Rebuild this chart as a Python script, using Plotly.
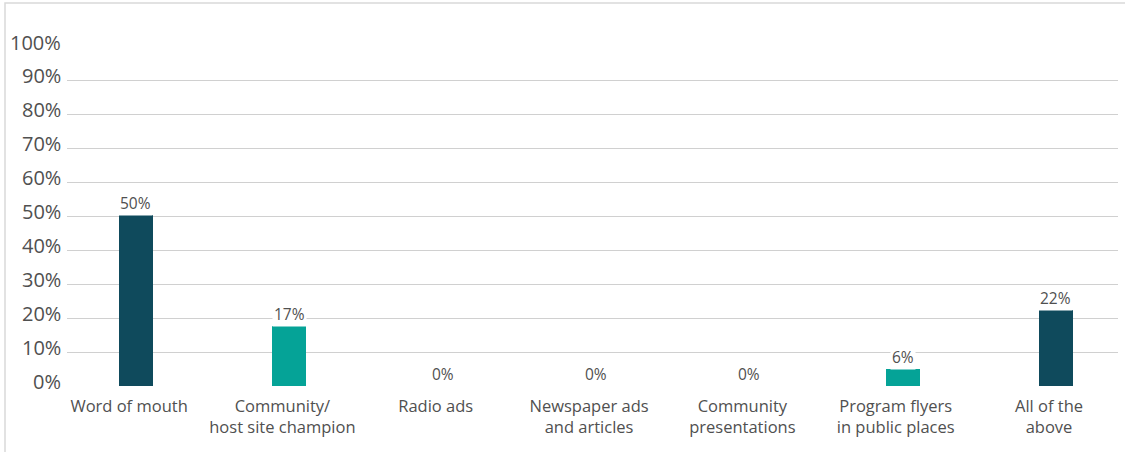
import plotly.graph_objects as go

categories = ["Word of mouth", "Community/<br>host site champion", "Radio ads",
              "Newspaper ads<br>and articles", "Community<br>presentations",
              "Program flyers<br>in public places", "All of the<br>above"]
values = [50.4, 17.8, 0, 0, 0, 5.1, 22.4]
labels = ["50%", "17%", "0%", "0%", "0%", "6%", "22%"]
colors = ["#0f4a5c", "#05a397", "#05a397", "#05a397", "#05a397", "#05a397", "#0f4a5c"]
ytick_vals = [0, 10, 20, 30, 40, 50, 60, 70, 80, 90, 100]
ytick_text = [f"{v}%" for v in ytick_vals]

TXT = "#505050"
xs = list(range(len(categories)))
LABEL_OFFSET = -0.045

fig = go.Figure()
fig.add_trace(go.Bar(x=xs, y=values, marker_color=colors, width=0.222,
                     marker_line_width=0, hoverinfo="skip"))

for x, v, t in zip(xs, values, labels):
    fig.add_annotation(x=x, y=v, text=t, showarrow=False, yanchor="bottom",
                       yshift=-1, bgcolor="white", borderpad=1,
                       font=dict(family="Open Sans", size=15.5, color=TXT))

for v, t in zip(ytick_vals, ytick_text):
    fig.add_annotation(xref="paper", x=(63 - 67) / 1051, y=v, text=t,
                       showarrow=False, xanchor="right", yanchor="middle",
                       yshift=5,
                       font=dict(family="Open Sans", size=20, color=TXT))

fig.update_layout(
    width=1125, height=452,
    margin=dict(l=67, r=7, t=47, b=66),
    plot_bgcolor="white", paper_bgcolor="white",
    showlegend=False,
    xaxis=dict(tickmode="array", tickvals=[x + LABEL_OFFSET for x in xs],
               ticktext=categories,
               range=[-0.45, 6.405], showgrid=False, zeroline=False,
               showline=False, ticks="", ticklen=0, ticklabelstandoff=8,
               tickfont=dict(family="Open Sans", size=16.5, color=TXT)),
    yaxis=dict(range=[0, 100], tickmode="array", tickvals=ytick_vals,
               showticklabels=False, showgrid=True, gridcolor="#d0d0d0",
               gridwidth=1.3, zeroline=False, showline=False, ticks=""),
    bargap=0,
)

fig.add_shape(type="rect", xref="paper", yref="paper",
              x0=(5 - 67) / 1051, x1=(1130 - 67) / 1051,
              y0=-(452 - 386 + 10) / 339, y1=1 + (47 - 3) / 339,
              line=dict(color="#d9d9d9", width=1.5), layer="below")

fig.write_html("out.html")
